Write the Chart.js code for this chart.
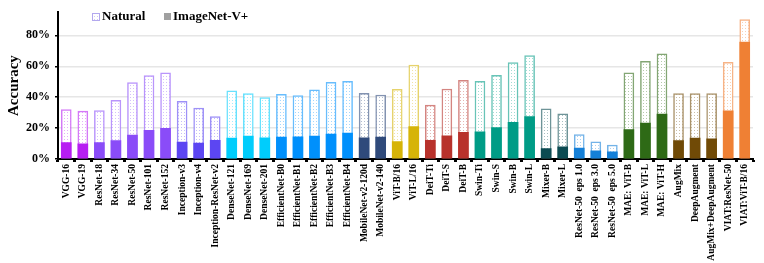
<!DOCTYPE html>
<html>
<head>
<meta charset="utf-8">
<script src="https://cdn.jsdelivr.net/npm/chart.js@4"></script>
<style>
  html, body { margin: 0; padding: 0; background: #fff; }
  #wrap { width: 764px; height: 263px; }
</style>
</head>
<body>
<div id="wrap"><canvas id="accChart"></canvas></div>
<script>
// Model names along the x axis
const models = [
    'VGG-16', 'VGG-19', 'ResNet-18', 'ResNet-34', 'ResNet-50', 'ResNet-101', 'ResNet-152',
    'Inception-v3', 'Inception-v4', 'Inception-ResNet-v2',
    'DenseNet-121', 'DenseNet-169', 'DenseNet-201',
    'EfficientNet-B0', 'EfficientNet-B1', 'EfficientNet-B2', 'EfficientNet-B3', 'EfficientNet-B4',
    'MobileNet-v2-120d', 'MobileNet-v2-140',
    'ViT-B/16', 'ViT-L/16',
    'DeiT-Ti', 'DeiT-S', 'DeiT-B',
    'Swin-Ti', 'Swin-S', 'Swin-B', 'Swin-L',
    'Mixer-B', 'Mixer-L',
    'ResNet-50  eps 1.0', 'ResNet-50  eps 3.0', 'ResNet-50  eps 5.0',
    'MAE: ViT-B', 'MAE: ViT-L', 'MAE: ViT-H',
    'AugMix', 'DeepAugment', 'AugMix+DeepAugment',
    'VIAT:ResNet-50', 'VIAT:ViT-B/16'
];

// Accuracy (%) on natural images
const naturalAcc = [
    32.0, 31.0, 31.4, 38.0, 49.4, 54.0, 55.8,
    37.3, 33.0, 27.5,
    44.1, 42.3, 39.8,
    41.8, 41.0, 44.7, 49.6, 50.3,
    42.5, 41.4,
    45.1, 60.7,
    34.9, 45.3, 50.9,
    50.3, 54.2, 62.4, 66.9,
    32.4, 29.3,
    15.8, 11.1, 9.0,
    55.8, 63.2, 68.1,
    42.3, 42.3, 42.3,
    62.6, 90.3
];

// Accuracy (%) on ImageNet-V+
const vplusAcc = [
    10.6, 9.8, 10.7, 11.9, 15.4, 18.5, 19.9,
    10.9, 10.3, 12.1,
    13.5, 14.8, 13.7,
    14.2, 14.4, 14.8, 16.2, 16.8,
    13.7, 14.2,
    11.3, 20.9,
    12.1, 15.0, 17.2,
    17.6, 20.3, 23.8, 27.5,
    6.8, 7.8,
    7.0, 5.3, 4.7,
    19.1, 23.2, 29.1,
    11.9, 13.5, 13.1,
    31.2, 75.7
];

const yTicks = [0, 20, 40, 60, 80];

// one colour per model family
const familyColors = {
    vgg: '#b71ef2', resnet: '#8a4cf8', inception: '#5c46f2', densenet: '#00cdfc',
    effnet: '#0090fc', mobilenet: '#2f4a7b', vit: '#d6b408', deit: '#b8322c',
    swin: '#009c86', mixer: '#0c4b52', robust: '#1580d8', mae: '#2e6a16',
    aug: '#704a06', viat: '#ef8034'
};
const familyOf = [
    'vgg', 'vgg', 'resnet', 'resnet', 'resnet', 'resnet', 'resnet',
    'inception', 'inception', 'inception',
    'densenet', 'densenet', 'densenet',
    'effnet', 'effnet', 'effnet', 'effnet', 'effnet',
    'mobilenet', 'mobilenet',
    'vit', 'vit',
    'deit', 'deit', 'deit',
    'swin', 'swin', 'swin', 'swin',
    'mixer', 'mixer',
    'robust', 'robust', 'robust',
    'mae', 'mae', 'mae',
    'aug', 'aug', 'aug',
    'viat', 'viat'
];

const SERIF = '"Liberation Serif", "Times New Roman", serif';

function hexToRgb(hex) {
    const n = parseInt(hex.slice(1), 16);
    return [(n >> 16) & 255, (n >> 8) & 255, n & 255];
}
function lighten(hex, amt, alpha) {
    const c = hexToRgb(hex).map(v => Math.round(v + (255 - v) * amt));
    return `rgba(${c[0]}, ${c[1]}, ${c[2]}, ${alpha})`;
}

// dotted fill used by the "Natural" bars
function dotPattern(ctx, hex) {
    const c = document.createElement('canvas');
    c.width = 3; c.height = 3;
    const g = c.getContext('2d');
    g.fillStyle = '#ffffff';
    g.fillRect(0, 0, 3, 3);
    g.fillStyle = lighten(hex, 0.4, 0.6);
    g.fillRect(1, 1, 1, 1);
    return ctx.createPattern(c, 'repeat');
}

const canvas = document.getElementById('accChart');
const ctx = canvas.getContext('2d');

const solidColors = familyOf.map(f => familyColors[f]);
const naturalFill = familyOf.map(f => dotPattern(ctx, familyColors[f]));
const naturalBorder = familyOf.map(f => lighten(familyColors[f], 0.3, 0.85));

// legend drawn inside the plot, like the original figure
const insideLegend = {
    id: 'insideLegend',
    afterDraw(chart) {
        const c = chart.ctx;
        c.save();
        c.font = 'bold 13px ' + SERIF;
        c.textBaseline = 'middle';
        const y = 17;
        // Natural
        c.fillStyle = dotPattern(c, '#7f6fd8');
        c.fillRect(92, y - 4, 8, 8);
        c.strokeStyle = '#b3a8ee';
        c.lineWidth = 1;
        c.strokeRect(92.5, y - 3.5, 7, 7);
        c.fillStyle = '#000';
        c.fillText('Natural', 102, y);
        // ImageNet-V+
        c.fillStyle = '#a0a0a0';
        c.fillRect(164, y - 4, 7, 7);
        c.fillStyle = '#000';
        c.fillText('ImageNet-V+', 173, y);
        c.restore();
    }
};

new Chart(ctx, {
    type: 'bar',
    data: {
        labels: models,
        datasets: [
            {
                label: 'ImageNet-V+',
                data: vplusAcc,
                backgroundColor: solidColors,
                borderWidth: 0,
                grouped: false,
                barThickness: 10,
                order: 0
            },
            {
                label: 'Natural',
                data: naturalAcc,
                backgroundColor: naturalFill,
                borderColor: naturalBorder,
                borderWidth: 1.5,
                grouped: false,
                barThickness: 10,
                order: 1
            }
        ]
    },
    options: {
        responsive: true,
        maintainAspectRatio: false,
        animation: false,
        layout: { padding: { top: 4, right: 11, left: 0, bottom: 0 } },
        plugins: {
            legend: { display: false },
            tooltip: { enabled: false }
        },
        scales: {
            x: {
                offset: true,
                border: { display: true, color: '#000', width: 2 },
                grid: {
                    display: true,
                    offset: true,
                    drawOnChartArea: false,
                    drawTicks: true,
                    tickLength: 3,
                    tickWidth: 3,
                    tickColor: '#000'
                },
                ticks: {
                    autoSkip: false,
                    maxRotation: 90,
                    minRotation: 90,
                    padding: 2,
                    color: '#000',
                    font: { family: SERIF, size: 9.5, weight: 'bold' }
                },
                afterFit(scale) { scale.height = 104; }
            },
            y: {
                min: 0,
                max: 95,
                border: { display: true, color: '#000', width: 2 },
                afterBuildTicks(scale) {
                    scale.ticks = yTicks.map(v => ({ value: v }));
                },
                grid: {
                    color: ctx2 => ctx2.tick && ctx2.tick.value === 0 ? 'rgba(0,0,0,0)' : '#e6e6e6',
                    lineWidth: 1.5,
                    drawTicks: true,
                    tickLength: 3,
                    tickColor: '#000'
                },
                ticks: {
                    padding: 5,
                    color: '#000',
                    font: { family: SERIF, size: 12, weight: 'bold' },
                    callback: v => v + '%'
                },
                title: {
                    display: true,
                    text: 'Accuracy',
                    color: '#000',
                    font: { family: SERIF, size: 15, weight: 'bold' },
                    padding: { top: 5, bottom: 2 }
                },
                afterFit(scale) { scale.width = 58; }
            }
        }
    },
    plugins: [insideLegend]
});
</script>
</body>
</html>
